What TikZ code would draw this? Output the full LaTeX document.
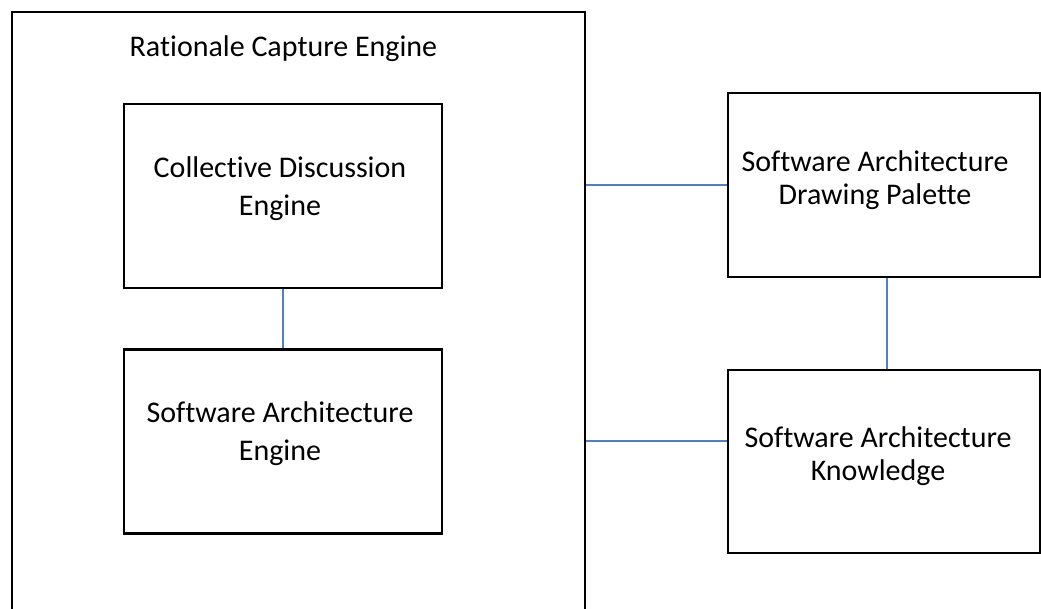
\documentclass[tikz,border=0pt]{standalone}
\usepackage{fontspec}
\setmainfont{Carlito}[Ligatures=CommonOff]
\usetikzlibrary{calc}
\definecolor{linkblue}{HTML}{4F81BD}
\tikzset{
  box/.style={draw=black, line width=2.6pt, minimum width=#1, inner sep=0pt},
  link/.style={draw=linkblue, line width=1.6pt},
  txt/.style={align=center, font=\fontsize{30}{33}\selectfont, inner sep=0pt}
}
\begin{document}
\begin{tikzpicture}[x=1pt, y=-1pt]
\useasboundingbox (0,0) rectangle (1041,609);
\clip (0,0) rectangle (1041,609);
% outer engine box (bottom edge lies below the picture)
\node[box=573pt, minimum height=640pt] (rce) at (298.5,332) {};
\node[txt, anchor=base west] (rcet) at (129.5,57) {Rationale Capture Engine};
% inner boxes
\node[box=318pt, minimum height=184pt] (cde) at (283,196) {};
\node[box=318pt, minimum height=184pt] (sae) at (283,441.5) {};
% right boxes
\node[box=312pt, minimum height=184pt] (sadp) at (884,185) {};
\node[box=312pt, minimum height=183pt] (sak) at (884,461.5) {};
% texts
\node[txt, font=\fontsize{30}{38}\selectfont] (cdet) at (280,189) {Collective Discussion\\Engine};
\node[txt, font=\fontsize{30}{38}\selectfont] (saet) at (280,434) {Software Architecture\\Engine};
\node[txt] (sadpt) at (875,180) {Software Architecture\\Drawing Palette};
\node[txt] (sakt) at (878,456) {Software Architecture\\Knowledge};
% connectors
\draw[link] (cde.south) -- (sae.north);
\draw[link] ([xshift=3pt]sadp.south) -- ([xshift=3pt]sak.north);
\draw[link] (sadp.west -| rce.east) -- (sadp.west);
\coordinate (sakin) at ($(sak.north west)!0.388!(sak.south west)$);
\draw[link] (sakin -| rce.east) -- (sakin);
\end{tikzpicture}
\end{document}
